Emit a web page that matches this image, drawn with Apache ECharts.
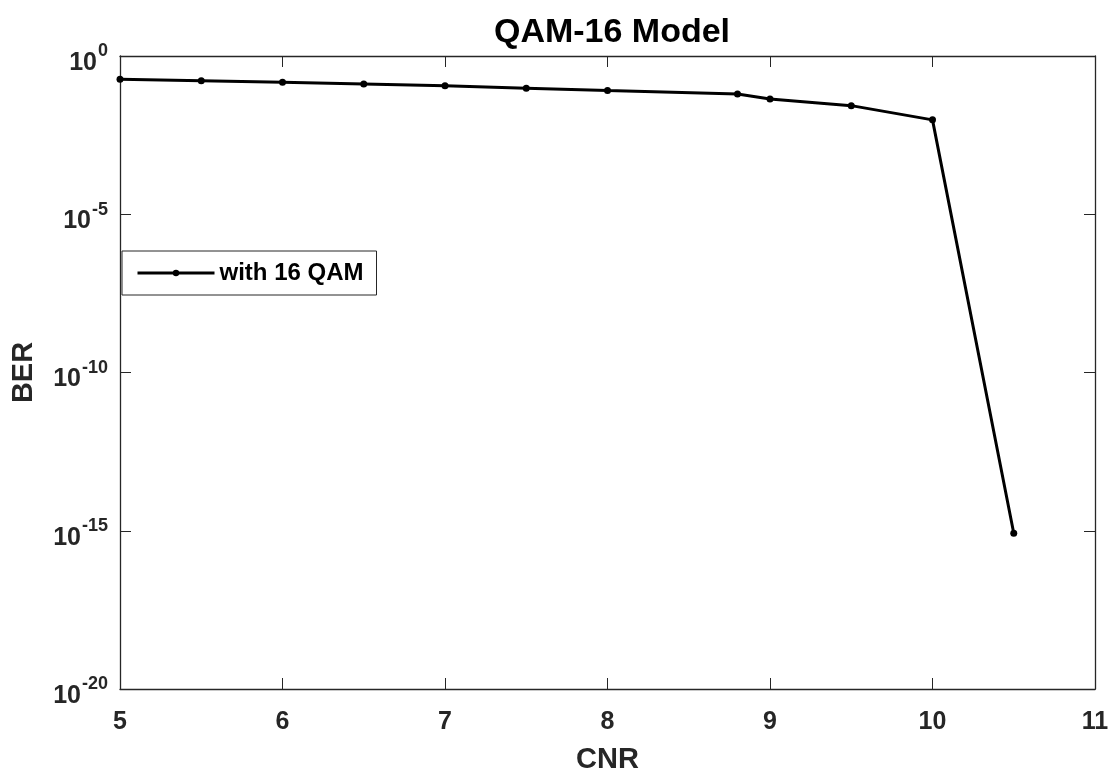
<!DOCTYPE html>
<html>
<head>
<meta charset="utf-8">
<script src="https://cdn.jsdelivr.net/npm/echarts@6/dist/echarts.min.js"></script>
<style>
  html, body { margin: 0; padding: 0; background: #fff; }
  #chart { width: 1114px; height: 779px; }
</style>
</head>
<body>
<div id="chart"></div>
<script>
// 数据
const cnr = [5, 5.5, 6, 6.5, 7, 7.5, 8, 8.8, 9, 9.5, 10, 10.5]
const ber = [0.184, 0.166, 0.148, 0.131, 0.115, 0.096, 0.081, 0.063, 0.044, 0.027, 0.0096, 8.3e-16]
const xTicks = [5, 6, 7, 8, 9, 10, 11]
const yExponents = [0, -5, -10, -15, -20]

const axisColor = '#262626'
const fontFam = '"Liberation Sans", Arial, Helvetica, sans-serif'

let chart = echarts.init(document.getElementById('chart'))

// y轴标签 10^n
function powLabel(v) {
  let e = Math.round(Math.log10(v))
  return '{b|10}{s|' + e + '}'
}

let option = {
  backgroundColor: '#fff',
  animation: false,
  title: {
    text: 'QAM-16 Model',
    left: 607,
    textAlign: 'center',
    top: 11,
    textStyle: { fontFamily: fontFam, fontWeight: 'bold', fontSize: 34, color: '#000' }
  },
  legend: {
    left: 122,
    top: 251,
    orient: 'vertical',
    padding: [10, 13, 10, 14],
    borderColor: axisColor,
    borderWidth: 1,
    backgroundColor: '#fff',
    itemWidth: 77,
    itemHeight: 8,
    itemGap: 0,
    lineStyle: { width: 3, color: '#000' },
    textStyle: { fontFamily: fontFam, fontWeight: 'bold', fontSize: 24, color: '#000' },
    data: ['with 16 QAM']
  },
  grid: { left: 120, right: 19, top: 56, bottom: 89 },
  xAxis: [{
    type: 'value',
    min: 5,
    max: 11,
    interval: 1,
    name: 'CNR',
    nameLocation: 'middle',
    nameGap: 56,
    nameTextStyle: { fontFamily: fontFam, fontWeight: 'bold', fontSize: 29, color: axisColor },
    axisLine: { lineStyle: { color: axisColor, width: 1.3 } },
    axisTick: { inside: true, length: 11, lineStyle: { color: axisColor } },
    axisLabel: { margin: 21, fontFamily: fontFam, fontWeight: 'bold', fontSize: 25, color: axisColor },
    splitLine: { show: false }
  }, {
    type: 'value',
    position: 'top',
    min: 5,
    max: 11,
    interval: 1,
    axisLine: { lineStyle: { color: axisColor, width: 1.3 } },
    axisTick: { inside: true, length: 11, lineStyle: { color: axisColor } },
    axisLabel: { show: false },
    splitLine: { show: false }
  }],
  yAxis: [{
    type: 'log',
    logBase: 10,
    min: 1e-20,
    max: 1,
    interval: 5,
    name: 'BER',
    nameLocation: 'middle',
    nameGap: 82,
    nameRotate: 90,
    nameTextStyle: { fontFamily: fontFam, fontWeight: 'bold', fontSize: 29, color: axisColor },
    axisLine: { show: true, lineStyle: { color: axisColor, width: 1.3 } },
    axisTick: { inside: true, length: 11, lineStyle: { color: axisColor } },
    axisLabel: {
      margin: 12,
      formatter: powLabel,
      rich: {
        b: { fontFamily: fontFam, fontWeight: 'bold', fontSize: 25, color: axisColor, padding: [14, 0, 0, 0] },
        s: { fontFamily: fontFam, fontWeight: 'bold', fontSize: 18, color: axisColor, padding: [0, 0, 9, 1] }
      }
    },
    splitLine: { show: false },
    minorTick: { show: false }
  }, {
    type: 'log',
    logBase: 10,
    position: 'right',
    min: 1e-20,
    max: 1,
    interval: 5,
    axisLine: { show: true, lineStyle: { color: axisColor, width: 1.3 } },
    axisTick: { inside: true, length: 11, lineStyle: { color: axisColor } },
    axisLabel: { show: false },
    splitLine: { show: false }
  }],
  series: [{
    name: 'with 16 QAM',
    type: 'line',
    data: cnr.map((x, i) => [x, ber[i]]),
    symbol: 'circle',
    symbolSize: 7,
    lineStyle: { color: '#000', width: 3 },
    itemStyle: { color: '#000' },
    emphasis: { disabled: true }
  }]
}

chart.setOption(option)
</script>
</body>
</html>
